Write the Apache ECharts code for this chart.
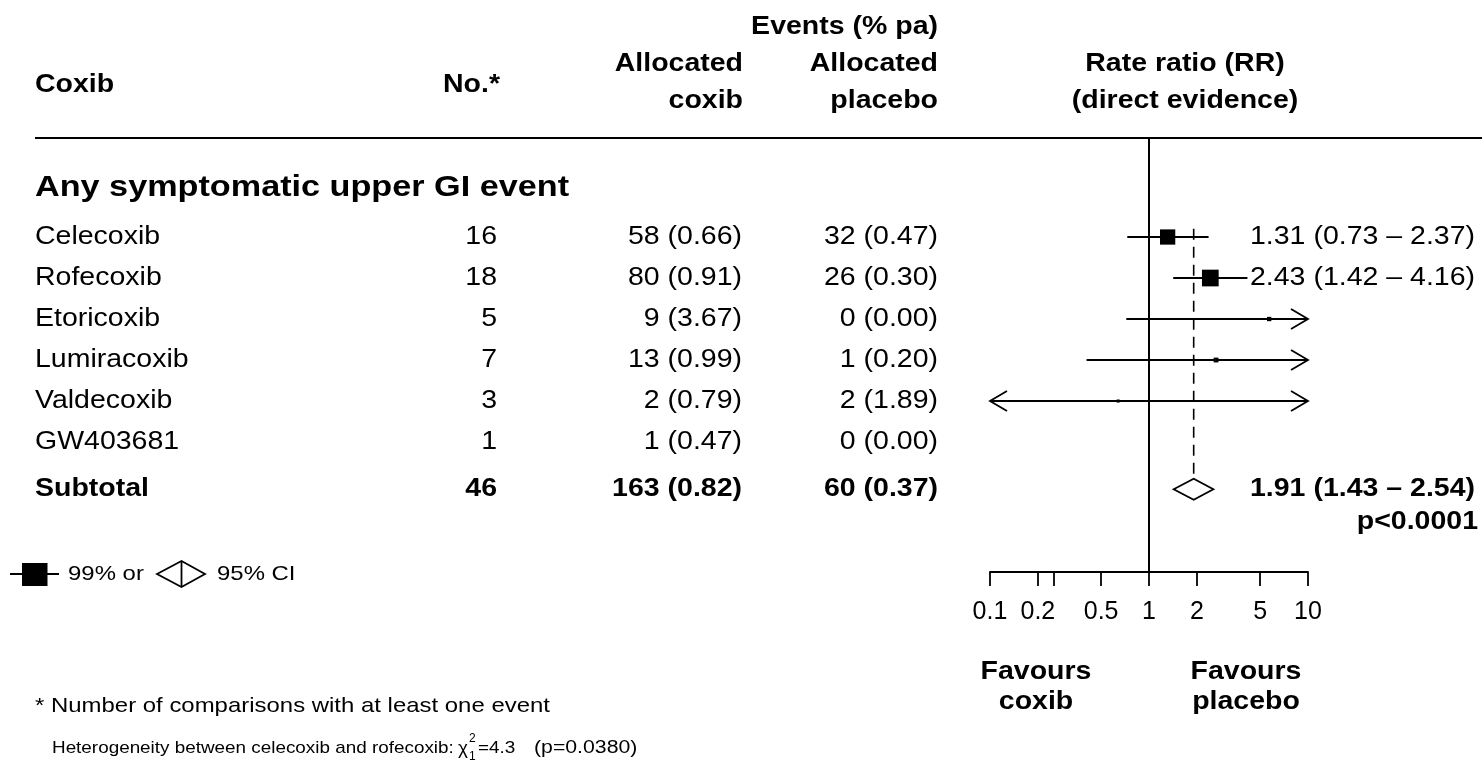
<!DOCTYPE html>
<html>
<head>
<meta charset="utf-8">
<script src="https://cdn.jsdelivr.net/npm/echarts@6/dist/echarts.min.js"></script>
<style>
  html, body { margin: 0; padding: 0; background: #fff; }
  #chart { width: 1482px; height: 761px; }
</style>
</head>
<body>
<div id="chart"></div>
<script>
// Per-coxib results: any symptomatic upper GI event, coxib vs placebo
const coxibs        = ['Celecoxib', 'Rofecoxib', 'Etoricoxib', 'Lumiracoxib', 'Valdecoxib', 'GW403681'];
const comparisons   = [16, 18, 5, 7, 3, 1];
const coxibEvents   = [58, 80, 9, 13, 2, 1];
const coxibRates    = [0.66, 0.91, 3.67, 0.99, 0.79, 0.47];
const placeboEvents = [32, 26, 0, 1, 2, 0];
const placeboRates  = [0.47, 0.30, 0.00, 0.20, 1.89, 0.00];

// Rate ratios and confidence limits (null: no estimate drawn)
const rateRatio = [1.31, 2.43, 5.7, 2.64, 0.64, null];
const ciLower   = [0.73, 1.42, 0.72, 0.405, 0.034, null];
const ciUpper   = [2.37, 4.16, 45, 17, 12, null];
const rrLabelled = [true, true, false, false, false, false];

// Pooled result
const totalComparisons   = 46;
const totalCoxibEvents   = 163;
const totalCoxibRate     = 0.82;
const totalPlaceboEvents = 60;
const totalPlaceboRate   = 0.37;
const totalRR    = 1.91;
const totalLower = 1.43;
const totalUpper = 2.54;
const totalP     = 'p<0.0001';

// Heterogeneity test between celecoxib and rofecoxib
const hetChi2 = 4.3;
const hetP    = '0.0380';

// Rate-ratio axis
const axisTickValues  = [0.1, 0.2, 0.25, 0.5, 1, 2, 5, 10];
const axisLabelValues = [0.1, 0.2, 0.5, 1, 2, 5, 10];

// ---- layout ----
const X_MIN = 0.1, X_MAX = 10;
const Y_MIN = -2.415, Y_MAX = 8.17;          // rows: 0..5 studies
const ROW_HEAD = -1.2, ROW_TOTAL = 6.15, ROW_P = 6.95, ROW_DASH_TOP = -0.2;
const COL = { name: 35, no: 497, coxib: 742, placebo: 938, rr: 1250, right: 1478 };
const SX = 1.14;                              // horizontal text stretch
const FONT = '"Liberation Sans", Arial, Helvetica, sans-serif';
const BOX_K = 7.8;                            // box side ~ 1 / CI width (log10)
const LW = 1.8;

function txt(x, y, text, size, opts) {
  opts = opts || {};
  const align = opts.align || 'left';
  return {
    type: 'text', x: x, y: y, scaleX: opts.sx || SX, silent: true,
    style: {
      text: text, fontSize: size, fontFamily: FONT,
      fontWeight: opts.bold ? 'bold' : 'normal', fill: '#000',
      align: align, textAlign: align,
      verticalAlign: 'middle', textVerticalAlign: 'middle'
    }
  };
}
function fmtEvents(n, r) { return n + ' (' + r.toFixed(2) + ')'; }
function fmtRR(rr, lo, hi) { return rr.toFixed(2) + ' (' + lo.toFixed(2) + ' \u2013 ' + hi.toFixed(2) + ')'; }
function lineEl(x1, y1, x2, y2, extra) {
  return Object.assign({ type: 'line', silent: true,
    shape: { x1: x1, y1: y1, x2: x2, y2: y2 },
    style: { stroke: '#000', lineWidth: LW } }, extra || {});
}

// ---- table text, positioned on the row scale ----
const tableData = coxibs.map((_, i) => [1, i]).concat([[1, ROW_TOTAL], [1, ROW_HEAD]]);
function renderTable(params, api) {
  const i = params.dataIndex;
  const y = api.coord([1, api.value(1)])[1];
  const n = coxibs.length;
  if (i < n) {
    const kids = [
      txt(COL.name, y, coxibs[i], 25),
      txt(COL.no, y, String(comparisons[i]), 25, { align: 'right' }),
      txt(COL.coxib, y, fmtEvents(coxibEvents[i], coxibRates[i]), 25, { align: 'right' }),
      txt(COL.placebo, y, fmtEvents(placeboEvents[i], placeboRates[i]), 25, { align: 'right' })
    ];
    if (rrLabelled[i]) kids.push(txt(COL.rr, y, fmtRR(rateRatio[i], ciLower[i], ciUpper[i]), 25));
    return { type: 'group', children: kids };
  }
  if (i === n) {
    const yp = api.coord([1, ROW_P])[1];
    return { type: 'group', children: [
      txt(COL.name, y, 'Subtotal', 25, { bold: true }),
      txt(COL.no, y, String(totalComparisons), 25, { bold: true, align: 'right' }),
      txt(COL.coxib, y, fmtEvents(totalCoxibEvents, totalCoxibRate), 25, { bold: true, align: 'right' }),
      txt(COL.placebo, y, fmtEvents(totalPlaceboEvents, totalPlaceboRate), 25, { bold: true, align: 'right' }),
      txt(COL.rr, y, fmtRR(totalRR, totalLower, totalUpper), 25, { bold: true }),
      txt(COL.right, yp, totalP, 25, { bold: true, align: 'right' })
    ] };
  }
  return txt(COL.name, y, 'Any symptomatic upper GI event', 30, { bold: true });
}

// ---- forest marks ----
const forestData = coxibs.map((_, i) => [1, i]);
function renderForest(params, api) {
  const i = params.dataIndex;
  const rr = rateRatio[i];
  if (rr == null) return null;
  const lo = ciLower[i], hi = ciUpper[i];
  const y = api.coord([1, i])[1];
  const x0 = api.coord([Math.max(lo, X_MIN), i])[0];
  const x1 = api.coord([Math.min(hi, X_MAX), i])[0];
  const xc = api.coord([rr, i])[0];
  const kids = [lineEl(x0, y, x1, y)];
  const ah = 17, aw = 10;
  if (lo < X_MIN) kids.push({ type: 'polyline', silent: true,
    shape: { points: [[x0 + ah, y - aw], [x0, y], [x0 + ah, y + aw]] },
    style: { stroke: '#000', lineWidth: LW, fill: null } });
  if (hi > X_MAX) kids.push({ type: 'polyline', silent: true,
    shape: { points: [[x1 - ah, y - aw], [x1, y], [x1 - ah, y + aw]] },
    style: { stroke: '#000', lineWidth: LW, fill: null } });
  const s = BOX_K / Math.log10(hi / lo);
  kids.push({ type: 'rect', silent: true,
    shape: { x: xc - s / 2, y: y - s / 2, width: s, height: s },
    style: { fill: '#000' } });
  return { type: 'group', children: kids };
}

// Reference lines and pooled diamond
function renderPooled(params, api) {
  const top = api.coord([1, Y_MIN]);
  const bottom = api.coord([1, Y_MAX]);
  const yc = api.coord([totalRR, ROW_TOTAL])[1];
  const xc = api.coord([totalRR, ROW_TOTAL])[0];
  const xl = api.coord([totalLower, ROW_TOTAL])[0];
  const xr = api.coord([totalUpper, ROW_TOTAL])[0];
  const hh = 10.5;
  const yDash = api.coord([totalRR, ROW_DASH_TOP])[1];
  return { type: 'group', children: [
    lineEl(top[0], top[1], bottom[0], bottom[1], { style: { stroke: '#000', lineWidth: 2 } }),
    lineEl(xc, yDash, xc, yc - hh, { style: { stroke: '#000', lineWidth: 1.6, lineDash: [11, 7] } }),
    { type: 'polygon', silent: true,
      shape: { points: [[xl, yc], [xc, yc - hh], [xr, yc], [xc, yc + hh]] },
      style: { stroke: '#000', lineWidth: LW, fill: '#fff' } }
  ] };
}

const chart = echarts.init(document.getElementById('chart'), null, { renderer: 'canvas' });

const graphics = [
  // header
  txt(938, 27, 'Events (% pa)', 25, { bold: true, align: 'right' }),
  txt(35, 85, 'Coxib', 25, { bold: true }),
  txt(500, 85, 'No.*', 25, { bold: true, align: 'right' }),
  txt(743, 64, 'Allocated', 25, { bold: true, align: 'right' }),
  txt(743, 101, 'coxib', 25, { bold: true, align: 'right' }),
  txt(938, 64, 'Allocated', 25, { bold: true, align: 'right' }),
  txt(938, 101, 'placebo', 25, { bold: true, align: 'right' }),
  txt(1185, 64, 'Rate ratio (RR)', 25, { bold: true, align: 'center' }),
  txt(1185, 101, '(direct evidence)', 25, { bold: true, align: 'center' }),
  lineEl(35, 138, 1482, 138, { style: { stroke: '#000', lineWidth: 2 } }),
  // key
  lineEl(10, 574, 59, 574),
  { type: 'rect', silent: true, shape: { x: 22, y: 563, width: 25.5, height: 23 }, style: { fill: '#000' } },
  txt(68, 574, '99% or', 21),
  { type: 'polygon', silent: true,
    shape: { points: [[157, 574], [181.5, 561], [205, 574], [181.5, 587]] },
    style: { stroke: '#000', lineWidth: LW, fill: '#fff' } },
  lineEl(181.5, 561, 181.5, 587),
  txt(217, 574, '95% CI', 21),
  // favours
  txt(1036, 672, 'Favours', 25, { bold: true, align: 'center' }),
  txt(1036, 702, 'coxib', 25, { bold: true, align: 'center' }),
  txt(1246, 672, 'Favours', 25, { bold: true, align: 'center' }),
  txt(1246, 702, 'placebo', 25, { bold: true, align: 'center' }),
  // notes
  txt(35, 706, '* Number of comparisons with at least one event', 21),
  txt(52, 748, 'Heterogeneity between celecoxib and rofecoxib:', 17, { sx: 1.11 }),
  txt(458, 749, '\u03C7', 19, { sx: 1.0 }),
  txt(469, 739, '2', 12, { sx: 1.0 }),
  txt(469, 757, '1', 12, { sx: 1.0 }),
  txt(478, 748, '=' + hetChi2.toFixed(1), 17, { sx: 1.11 }),
  txt(534, 748, '(p=' + hetP + ')', 18, { sx: 1.18 })
];

chart.setOption({
  animation: false,
  backgroundColor: '#fff',
  grid: { left: 990, right: 1482 - 1308, top: 138, bottom: 761 - 572, containLabel: false, outerBoundsMode: 'none' },
  xAxis: {
    type: 'log', logBase: 10, min: X_MIN, max: X_MAX,
    position: 'bottom',
    axisLine: { show: true, onZero: false, lineStyle: { color: '#000', width: 1.8 } },
    axisTick: { show: true, inside: false, length: 14, customValues: axisTickValues,
      lineStyle: { color: '#000', width: 1.8 } },
    axisLabel: { show: true, customValues: axisLabelValues, margin: 28,
      color: '#000', fontSize: 25, fontFamily: FONT, hideOverlap: false,
      showMinLabel: true, showMaxLabel: true,
      formatter: v => String(+(+v).toPrecision(3)) },
    splitLine: { show: false },
    minorTick: { show: false }
  },
  yAxis: { type: 'value', inverse: true, min: Y_MIN, max: Y_MAX, show: false, splitLine: { show: false } },
  graphic: { elements: graphics },
  series: [
    { type: 'custom', name: 'pooled', renderItem: renderPooled, data: [[1, 0]], silent: true, z: 2 },
    { type: 'custom', name: 'coxibs', renderItem: renderForest, data: forestData, silent: true, z: 3 },
    { type: 'custom', name: 'table', renderItem: renderTable, data: tableData, silent: true, z: 4 }
  ]
});
</script>
</body>
</html>
